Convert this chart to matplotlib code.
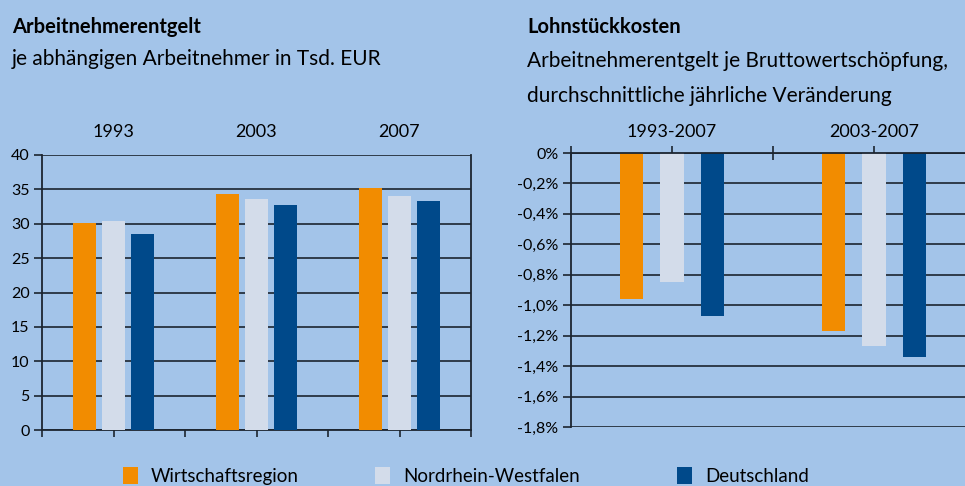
import matplotlib.pyplot as plt
from matplotlib.patches import Patch
from matplotlib.ticker import FuncFormatter
import numpy as np

plt.rcParams.update({
    "font.family": ["Lato", "DejaVu Sans"],
    "font.size": 11,
})

# data
series = ["Wirtschaftsregion", "Nordrhein-Westfalen", "Deutschland"]
colors = ["#f28c00", "#d3dcea", "#00498a"]

years = ["1993", "2003", "2007"]
entgelt = {
    "Wirtschaftsregion": [30.1, 34.3, 35.2],
    "Nordrhein-Westfalen": [30.4, 33.6, 34.0],
    "Deutschland": [28.5, 32.7, 33.3],
}

periods = ["1993-2007", "2003-2007"]
lohnstueck = {
    "Wirtschaftsregion": [-0.96, -1.17],
    "Nordrhein-Westfalen": [-0.85, -1.27],
    "Deutschland": [-1.07, -1.34],
}

BG = "#a3c4e9"
LINE = "#1c2530"
W, H = 965, 486

fig = plt.figure(figsize=(W / 100, H / 100), dpi=100, facecolor=BG)


def px_axes(x0, y0, x1, y1):
    # pixel box (top-left origin) -> figure axes
    return fig.add_axes([x0 / W, 1 - y1 / H, (x1 - x0) / W, (y1 - y0) / H])


# ---- left: Arbeitnehmerentgelt
ax1 = px_axes(42, 155, 471, 430)
ax1.set_facecolor(BG)
x = np.arange(len(years))
for i, s in enumerate(series):
    ax1.bar(x + (i - 1) * 0.2, entgelt[s], width=0.16, color=colors[i], zorder=3)
ax1.set_xlim(-0.5, len(years) - 0.5)
ax1.set_ylim(0, 40)
ax1.set_yticks(np.arange(0, 41, 5))
ax1.yaxis.grid(True, color=LINE, linewidth=1.2, zorder=1)
ax1.set_axisbelow(True)
ax1.set_xticks(np.arange(-0.5, len(years), 0.5))
ax1.set_xticklabels([])
ax1.tick_params(axis="x", length=5, width=1.2, color=LINE)
ax1.tick_params(axis="y", length=6, width=1.2, color=LINE, labelsize=11.5, pad=3)
for side in ["left", "bottom", "right"]:
    ax1.spines[side].set_color(LINE)
    ax1.spines[side].set_linewidth(1.3)
ax1.spines["top"].set_visible(False)
for xi, lab in zip(x, years):
    ax1.text(xi, 1.0 + 18 / 275, lab, transform=ax1.get_xaxis_transform(),
             ha="center", va="baseline", fontsize=13)

# ---- right: Lohnstückkosten (axes runs past the right edge)
ax2 = px_axes(571, 153, 975, 427)
ax2.set_facecolor(BG)
x2 = np.arange(len(periods))
for i, s in enumerate(series):
    ax2.bar(x2 + (i - 1) * 0.2, lohnstueck[s], width=0.114, color=colors[i], zorder=3)
ax2.set_xlim(-0.5, len(periods) - 0.5)
ax2.set_ylim(-1.8, 0)
ax2.set_yticks(np.arange(-1.8, 0.01, 0.2))
ax2.yaxis.set_major_formatter(FuncFormatter(
    lambda v, _: "0%" if abs(v) < 1e-9 else f"{v:.1f}%".replace(".", ",")))
ax2.yaxis.grid(True, color=LINE, linewidth=1.2, zorder=1)
ax2.set_axisbelow(True)
ax2.xaxis.tick_top()
ax2.set_xticks(np.arange(-0.5, len(periods), 0.5))
ax2.set_xticklabels([])
ax2.tick_params(axis="x", direction="inout", length=10, width=1.2, color=LINE)
ax2.tick_params(axis="y", length=6, width=1.2, color=LINE, labelsize=11.5, pad=3)
ax2.spines["top"].set_color(LINE)
ax2.spines["top"].set_linewidth(1.3)
ax2.spines["top"].set_zorder(4)
ax2.spines["left"].set_color(LINE)
ax2.spines["left"].set_linewidth(1.3)
ax2.spines["bottom"].set_visible(False)
ax2.spines["right"].set_visible(False)
for xi, lab in zip(x2, periods):
    ax2.text(xi, 1.0 + 16 / 274, lab, transform=ax2.get_xaxis_transform(),
             ha="center", va="baseline", fontsize=13)

# ---- titles
fig.text(12 / W, 1 - 33 / H, "Arbeitnehmerentgelt", fontsize=14.5, fontweight="bold", va="baseline")
fig.text(12 / W, 1 - 65 / H, "je abhängigen Arbeitnehmer in Tsd. EUR", fontsize=15, va="baseline")
fig.text(527 / W, 1 - 33 / H, "Lohnstückkosten", fontsize=14.5, fontweight="bold", va="baseline")
fig.text(527 / W, 1 - 67 / H, "Arbeitnehmerentgelt je Bruttowertschöpfung,", fontsize=15, va="baseline")
fig.text(527 / W, 1 - 102 / H, "durchschnittliche jährliche Veränderung", fontsize=15, va="baseline")

# ---- legend, one entry at a time so the uneven spacing can be kept
legend_x = [123, 375, 677]
for s, c, lx in zip(series, colors, legend_x):
    fig.legend(handles=[Patch(facecolor=c, edgecolor="none", label=s)],
               loc="center left", bbox_to_anchor=(lx / W, 1 - 476 / H),
               frameon=False, fontsize=13.5, handlelength=0.8, handleheight=1.0,
               handletextpad=0.7, borderpad=0, borderaxespad=0)

fig.savefig("out.png", dpi=100, facecolor=BG)
